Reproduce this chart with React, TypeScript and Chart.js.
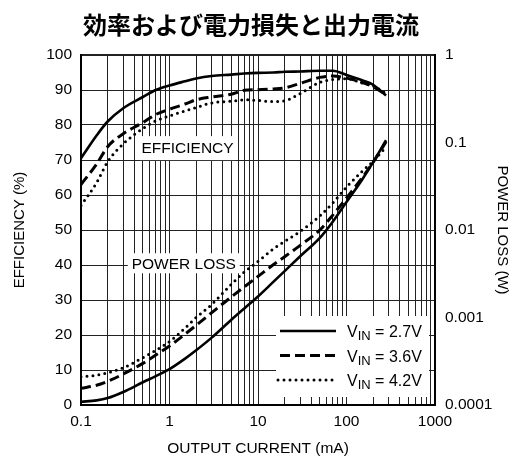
import React, { useEffect, useRef } from 'react';
import { Chart, registerables } from 'chart.js';

Chart.register(...registerables);

// ---------- data ----------
const chartTitle = '効率および電力損失と出力電流';
const xAxisTitle = 'OUTPUT CURRENT (mA)';
const yAxisTitle = 'EFFICIENCY (%)';
const y2AxisTitle = 'POWER LOSS (W)';
const efficiencyLabel = 'EFFICIENCY';
const powerLossLabel = 'POWER LOSS';

// output current (mA)
const currents = [0.1, 0.15, 0.2, 0.3, 0.5, 0.7, 1, 1.5, 2, 3, 5, 7, 10, 15, 20, 30, 50, 70, 100, 150, 200, 280];

// efficiency (%)
const effV27 = [70.5, 77, 81, 84.8, 88, 90, 91.3, 92.5, 93.3, 94, 94.4, 94.7, 94.9, 95, 95.2, 95.3, 95.5, 95.5, 94.3, 92.8, 91.5, 88.4];
const effV36 = [63, 68.8, 73.8, 77.5, 80.7, 83, 84.5, 86, 87.2, 88, 88.8, 89.9, 90.1, 90.3, 90.6, 91.9, 93.6, 94, 93.4, 92.2, 90.9, 88.6];
const effV42 = [57, 63.5, 69.5, 74.6, 79, 81.2, 82.6, 84, 85, 86.3, 86.8, 87.2, 87, 86.7, 86.9, 89, 92.2, 93, 93.2, 92, 91.2, 89];

// power loss (W)
const lossV27 = [1.09e-4, 1.13e-4, 1.2e-4, 1.41e-4, 1.82e-4, 2.14e-4, 2.57e-4, 3.39e-4, 4.22e-4, 5.89e-4, 9.44e-4, 1.27e-3, 1.74e-3, 2.57e-3, 3.39e-3, 5.01e-3, 8.13e-3, 0.01245, 0.0209, 0.0376, 0.0596, 0.106];
const lossV36 = [1.55e-4, 1.68e-4, 1.86e-4, 2.26e-4, 2.99e-4, 3.72e-4, 4.73e-4, 6.46e-4, 8.13e-4, 1.135e-3, 1.72e-3, 2.24e-3, 2.95e-3, 4.03e-3, 4.95e-3, 6.68e-3, 0.01, 0.0148, 0.0232, 0.0394, 0.0596, 0.102];
const lossV42 = [2.1e-4, 2.19e-4, 2.34e-4, 2.66e-4, 3.47e-4, 4.22e-4, 5.31e-4, 7.59e-4, 1.0e-3, 1.41e-3, 2.4e-3, 3.31e-3, 4.37e-3, 6.1e-3, 7.41e-3, 9.66e-3, 0.0145, 0.0204, 0.0309, 0.0468, 0.061, 0.0891];

// legend
const legendVoltages = ['2.7V', '3.6V', '4.2V'];

// ticks
const xTickValues = [0.1, 1, 10, 100, 1000];
const xTickLabels = ['0.1', '1', '10', '100', '1000'];
const xMinorMultipliers = [1, 2, 3, 4, 5, 6, 7, 8, 9];
const yTickValues = [0, 10, 20, 30, 40, 50, 60, 70, 80, 90, 100];
const y2TickValues = [0.0001, 0.001, 0.01, 0.1, 1];
const y2TickLabels = ['0.0001', '0.001', '0.01', '0.1', '1'];

// ---------- helpers ----------
const FONT = '"Liberation Sans", Arial, sans-serif';
const toPoints = (vals: number[]) => currents.map((c, i) => ({ x: c, y: vals[i] }));
const xGridValues: number[] = [];
xTickValues.slice(0, -1).forEach((d) => xMinorMultipliers.forEach((m) => xGridValues.push(d * m)));
xGridValues.push(xTickValues[xTickValues.length - 1]);
const sameLog = (a: number, b: number) => Math.abs(Math.log10(a) - Math.log10(b)) < 1e-6;

const solidStyle = { borderColor: '#000', borderWidth: 2.6, borderDash: [] as number[] };
const dashedStyle = { borderColor: '#000', borderWidth: 3, borderDash: [10, 5] };
const dottedStyle = { borderColor: '#000', borderWidth: 3, borderDash: [0, 6], borderCapStyle: 'round' as const };

const overlayPlugin = {
  id: 'overlay',
  beforeDatasetsDraw(chart: any) {
    const { ctx, chartArea, scales } = chart;
    const xs = scales.x;
    const ys = scales.y;
    ctx.save();
    ctx.textAlign = 'center';
    ctx.textBaseline = 'middle';
    ctx.font = `15.5px ${FONT}`;
    const drawBoxed = (text: string, xv: number, yv: number, w: number, h: number) => {
      const cx = xs.getPixelForValue(xv);
      const cy = ys.getPixelForValue(yv);
      ctx.fillStyle = '#fff';
      ctx.fillRect(cx - w / 2, cy - h / 2, w, h);
      ctx.fillStyle = '#000';
      ctx.fillText(text, cx, cy + 1);
    };
    drawBoxed(efficiencyLabel, 1.6, 73.4, 96, 24);
    drawBoxed(powerLossLabel, 1.45, 40.5, 112, 20);

    // legend box
    const bx = chartArea.right - 159;
    const by = chartArea.bottom - 89;
    const bw = 153;
    const bh = 81;
    ctx.fillStyle = '#fff';
    ctx.fillRect(bx, by, bw, bh);
    const styles = [solidStyle, dashedStyle, dottedStyle];
    legendVoltages.forEach((v, i) => {
      const cy = by + 15 + i * 24.5;
      const st: any = styles[i];
      ctx.save();
      ctx.strokeStyle = '#000';
      ctx.lineWidth = st.borderWidth;
      ctx.setLineDash(st.borderDash);
      ctx.lineCap = st.borderCapStyle || 'butt';
      ctx.beginPath();
      const x0 = i === 2 ? bx + 2 : bx + 4;
      const x1 = i === 2 ? bx + 62 : bx + 60;
      ctx.moveTo(x0, cy);
      ctx.lineTo(x1, cy);
      ctx.stroke();
      ctx.restore();
      ctx.fillStyle = '#000';
      ctx.textAlign = 'left';
      ctx.textBaseline = 'alphabetic';
      let tx = bx + 71;
      ctx.font = `16px ${FONT}`;
      ctx.fillText('V', tx, cy + 6);
      tx += ctx.measureText('V').width;
      ctx.font = `13px ${FONT}`;
      ctx.fillText('IN', tx, cy + 9);
      tx += ctx.measureText('IN').width;
      ctx.font = `16px ${FONT}`;
      ctx.fillText(' = ' + v, tx, cy + 6);
    });
    ctx.restore();
  },
  afterDraw(chart: any) {
    const { ctx } = chart;
    ctx.save();
    ctx.fillStyle = '#000';
    ctx.textAlign = 'center';
    ctx.textBaseline = 'middle';
    ctx.font = `bold 24px "Noto Sans CJK JP", sans-serif`;
    ctx.fillText(chartTitle, 251, 25);
    ctx.restore();
  },
};

export default function App() {
  const canvasRef = useRef<HTMLCanvasElement | null>(null);

  useEffect(() => {
    if (!canvasRef.current) return;
    const mk = (label: string, vals: number[], axis: string, style: any) => ({
      label,
      data: toPoints(vals),
      yAxisID: axis,
      ...style,
      pointRadius: 0,
      fill: false,
      cubicInterpolationMode: 'monotone',
    });
    const chart = new Chart(canvasRef.current, {
      type: 'line',
      data: {
        datasets: [
          mk('eff 2.7', effV27, 'y', solidStyle),
          mk('eff 3.6', effV36, 'y', dashedStyle),
          mk('eff 4.2', effV42, 'y', dottedStyle),
          mk('loss 2.7', lossV27, 'y2', solidStyle),
          mk('loss 3.6', lossV36, 'y2', dashedStyle),
          mk('loss 4.2', lossV42, 'y2', dottedStyle),
        ] as any,
      },
      options: {
        animation: false,
        responsive: false,
        maintainAspectRatio: false,
        layout: { padding: { top: 55, left: 0, right: 0, bottom: 0 } },
        plugins: { legend: { display: false }, tooltip: { enabled: false }, title: { display: false } },
        scales: {
          x: {
            type: 'logarithmic',
            min: 0.1,
            max: 1000,
            afterBuildTicks: (s: any) => {
              s.ticks = xGridValues.map((v) => ({ value: v }));
            },
            afterFit: (s: any) => {
              s.height = 53;
            },
            grid: {
              color: '#222',
              lineWidth: (c: any) => (c.tick && sameLog(c.tick.value, 1000) ? 2 : 1),
              drawTicks: false,
            },
            border: { display: true, color: '#000', width: 2 },
            ticks: {
              autoSkip: false,
              maxRotation: 0,
              padding: 7,
              color: '#000',
              font: { family: FONT, size: 15.5 },
              callback: (value: any) => {
                const i = xTickValues.findIndex((t) => sameLog(t, Number(value)));
                return i >= 0 ? xTickLabels[i] : '';
              },
            },
            title: {
              display: true,
              text: xAxisTitle,
              color: '#000',
              font: { family: FONT, size: 15.5 },
              padding: { top: 0, bottom: 0 },
            },
          },
          y: {
            type: 'linear',
            position: 'left',
            min: 0,
            max: 100,
            afterBuildTicks: (s: any) => {
              s.ticks = yTickValues.map((v) => ({ value: v }));
            },
            afterFit: (s: any) => {
              s.width = 81;
            },
            grid: {
              color: '#222',
              lineWidth: (c: any) => (c.tick && c.tick.value === 100 ? 2 : 1),
              drawTicks: false,
            },
            border: { display: true, color: '#000', width: 2 },
            ticks: {
              padding: 9,
              color: '#000',
              font: { family: FONT, size: 15.5 },
              callback: (value: any) => String(value),
            },
            title: {
              display: true,
              text: yAxisTitle,
              color: '#000',
              font: { family: FONT, size: 15 },
              padding: { top: 11, bottom: 0 },
            },
          },
          y2: {
            type: 'logarithmic',
            position: 'right',
            min: 0.0001,
            max: 1,
            afterBuildTicks: (s: any) => {
              s.ticks = y2TickValues.map((v) => ({ value: v }));
            },
            afterFit: (s: any) => {
              s.width = 86;
            },
            grid: { display: false, drawTicks: false },
            border: { display: true, color: '#000', width: 2 },
            ticks: {
              padding: 10,
              color: '#000',
              font: { family: FONT, size: 15.5 },
              callback: (value: any) => {
                const i = y2TickValues.findIndex((t) => sameLog(t, Number(value)));
                return i >= 0 ? y2TickLabels[i] : '';
              },
            },
            title: {
              display: true,
              text: y2AxisTitle,
              color: '#000',
              font: { family: FONT, size: 15 },
              padding: { top: 10, bottom: 0 },
            },
          },
        },
      } as any,
      plugins: [overlayPlugin],
    });
    return () => chart.destroy();
  }, []);

  return (
    <div style={{ position: 'fixed', left: 0, top: 0, width: 521, height: 458, background: '#fff' }}>
      <canvas ref={canvasRef} width={521} height={458} style={{ display: 'block' }} />
    </div>
  );
}
